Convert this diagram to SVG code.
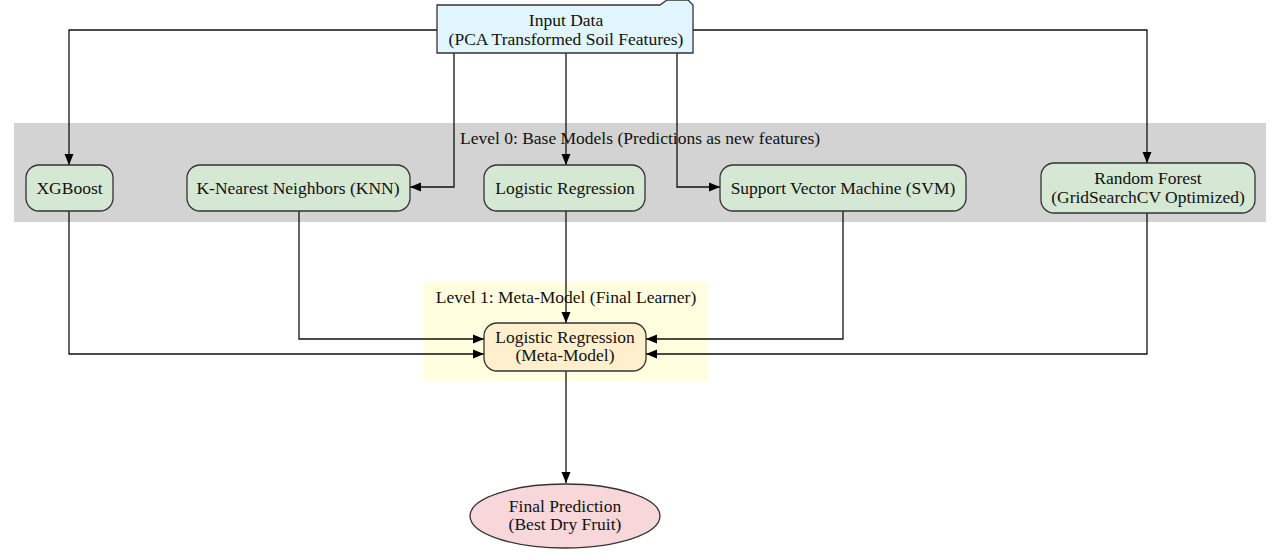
<svg xmlns="http://www.w3.org/2000/svg" width="1280" height="555" viewBox="0 0 1280 555">
<defs>
<marker id="ah" markerWidth="11" markerHeight="10" refX="11" refY="5" orient="auto" markerUnits="userSpaceOnUse">
<path d="M0,0.5 L11,5 L0,9.5 Z" fill="#000"/>
</marker>
<style>
text{font-family:"Liberation Serif","Times New Roman",serif;font-size:17.5px;fill:#111;text-anchor:middle}
.n{fill:#d5e8d4;stroke:#333;stroke-width:1.3}
.e{fill:none;stroke:#111;stroke-width:1.3;marker-end:url(#ah)}
</style>
</defs>
<rect width="1280" height="555" fill="#fff"/>
<g id="cluster0">
<rect x="14" y="123" width="1252" height="99" fill="#d3d3d3"/>
<text x="640" y="144">Level 0: Base Models (Predictions as new features)</text>
</g>
<g id="cluster1">
<rect x="423" y="282" width="285" height="99" fill="#ffffe0"/>
<text x="566" y="303">Level 1: Meta-Model (Final Learner)</text>
</g>
<g id="connectors">
<path class="e" d="M437,30 H69 V165"/>
<path class="e" d="M454,53 V187 H410"/>
<path class="e" d="M566,53 V165"/>
<path class="e" d="M677,53 V187 H720"/>
<path class="e" d="M693,30 H1147 V163"/>
<path class="e" d="M69,211 V354 H484"/>
<path class="e" d="M299,211 V339 H484"/>
<path class="e" d="M566,211 V323"/>
<path class="e" d="M843,211 V339 H646"/>
<path class="e" d="M1147,213 V354 H646"/>
<path class="e" d="M566,371 V483"/>
</g>
<g id="input">
<path d="M437,5 H660 L667,0 H688 L693,5 V53 H437 Z" fill="#e1f5fe" stroke="#333" stroke-width="1.3"/>
<text x="566" y="26">Input Data</text>
<text x="566" y="45">(PCA Transformed Soil Features)</text>
</g>
<g id="xgboost">
<rect class="n" x="26" y="165" width="87" height="46" rx="13"/>
<text x="69.5" y="194">XGBoost</text>
</g>
<g id="knn">
<rect class="n" x="187" y="165" width="223" height="46" rx="13"/>
<text x="298" y="194">K-Nearest Neighbors (KNN)</text>
</g>
<g id="lr">
<rect class="n" x="484" y="165" width="161" height="46" rx="13"/>
<text x="565" y="194">Logistic Regression</text>
</g>
<g id="svm">
<rect class="n" x="720" y="165" width="246" height="46" rx="13"/>
<text x="843" y="194">Support Vector Machine (SVM)</text>
</g>
<g id="rf">
<rect class="n" x="1041" y="163" width="214" height="50" rx="13"/>
<text x="1148" y="184">Random Forest</text>
<text x="1148" y="203">(GridSearchCV Optimized)</text>
</g>
<g id="meta">
<rect x="484" y="323" width="162" height="48" rx="13" fill="#ffefcc" stroke="#333" stroke-width="1.3"/>
<text x="565" y="343">Logistic Regression</text>
<text x="565" y="361">(Meta-Model)</text>
</g>
<g id="final">
<ellipse cx="565" cy="516" rx="95" ry="32" fill="#f8d7da" stroke="#333" stroke-width="1.3"/>
<text x="565" y="512">Final Prediction</text>
<text x="565" y="530">(Best Dry Fruit)</text>
</g>
</svg>
